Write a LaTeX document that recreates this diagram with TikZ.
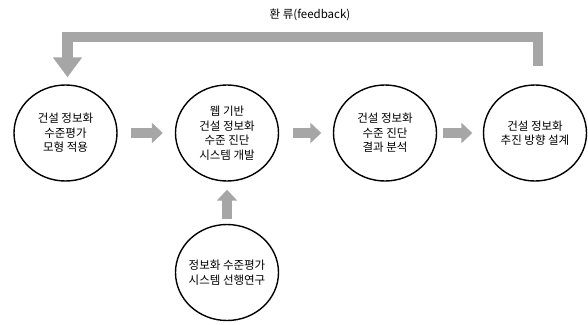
\documentclass[tikz,border=0pt]{standalone}
\usepackage{fontspec}
\setmainfont{Noto Sans CJK KR}
\usepackage{xcolor}
\usepackage{tikz}
\usetikzlibrary{shapes.geometric, arrows.meta, calc}
\definecolor{flowgray}{HTML}{A6A6A6}

\begin{document}
\begin{tikzpicture}[
  x=1pt, y=-1pt,
  stage/.style={draw, ellipse, line width=1.4pt, minimum width=103pt, minimum height=96pt, inner sep=0pt},
  stagetext/.style={align=center, font=\fontsize{11.5}{14.5}\selectfont},
  flow/.style={draw=flowgray, line width=10pt, -{Triangle[length=11pt, width=20pt]}},
  feedback/.style={draw=flowgray, line width=10.5pt, -{Triangle[length=20pt, width=28pt]}},
]
  \useasboundingbox (0,0) rectangle (588,324);

  \node[stage, label={[stagetext]center:건설 정보화\\수준평가\\모형 적용}] (c1) at (65.5, 133) {};
  \node[stage, label={[stagetext]center:웹 기반\\건설 정보화\\수준 진단\\시스템 개발}] (c2) at (227, 133) {};
  \node[stage, label={[stagetext]center:건설 정보화\\수준 진단\\결과 분석}] (c3) at (385, 133) {};
  \node[stage, label={[stagetext]center:건설 정보화\\추진 방향 설계}] (c4) at (535, 133) {};
  \node[stage, label={[stagetext]center:정보화 수준평가\\시스템 선행연구}] (c5) at (227, 272.5) {};

  \draw[flow] ([xshift=13pt]c1.east) -- ([xshift=-12pt]c2.west);
  \draw[flow] ([xshift=13.5pt]c2.east) -- ([xshift=-11.5pt]c3.west);
  \draw[flow] ([xshift=5.5pt]c3.east) -- ([xshift=-10.5pt]c4.west);
  \draw[flow] ([yshift=5pt]c5.north) -- ([yshift=-8pt]c2.south);

  \coordinate (fbline) at (0, 37);
  \draw[feedback] ([xshift=3pt, yshift=18pt]c4.north) |- ([xshift=2pt]c1.north |- fbline) -- ([xshift=2pt, yshift=7pt]c1.north);
  \node[font=\fontsize{11.5}{14}\selectfont] (fbtitle) at (310, 15) {환 류(feedback)};
\end{tikzpicture}
\end{document}
